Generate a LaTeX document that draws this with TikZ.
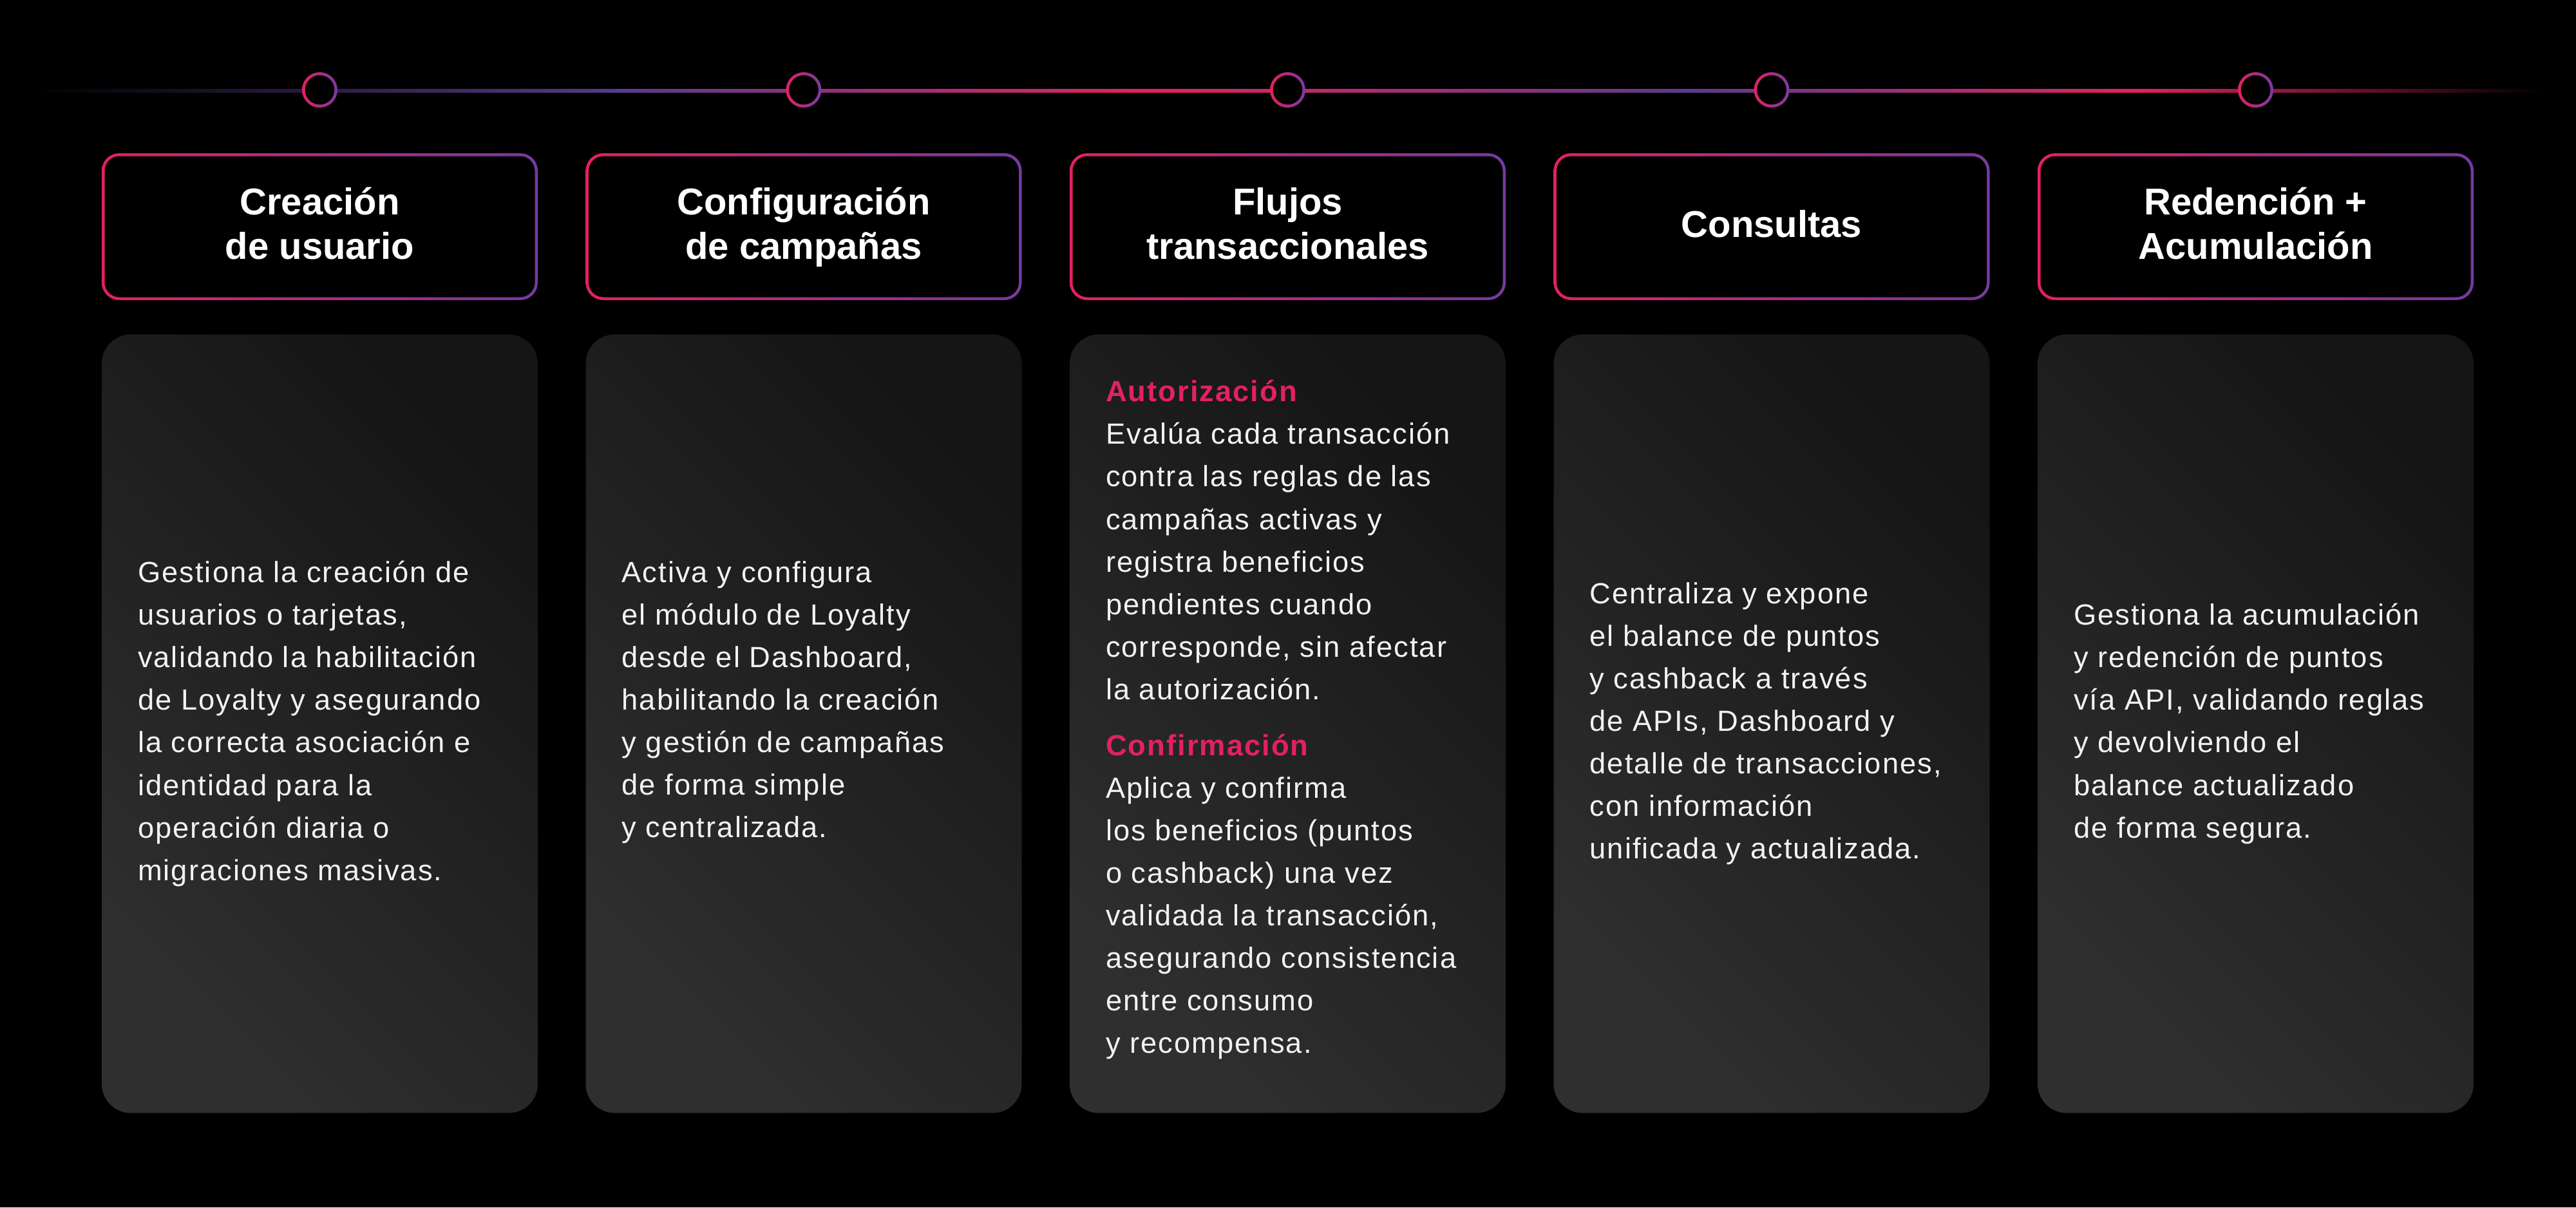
\documentclass[tikz,border=0pt]{standalone}
\usepackage{fontspec}
\setmainfont{Liberation Sans}
\newfontfamily\bodyfont[LetterSpace=4.5]{Liberation Sans}
\usetikzlibrary{positioning}
\definecolor{LoyaltyPink}{RGB}{226,34,96}
\definecolor{LoyaltyPurple}{RGB}{118,58,160}
\definecolor{LinePurple}{RGB}{92,58,140}
\definecolor{CardDark}{RGB}{21,21,21}
\definecolor{CardLight}{RGB}{47,47,47}
\definecolor{SoftWhite}{RGB}{242,242,242}
\pgfdeclarehorizontalshading{timeline}{100bp}{color(0bp)=(black); color(25bp)=(black);
  color(36.8bp)=(LinePurple); color(47.3bp)=(LoyaltyPink); color(58bp)=(LinePurple);
  color(66.9bp)=(LoyaltyPink); color(75bp)=(black); color(100bp)=(black)}

\begin{document}
\begin{tikzpicture}[
    headbox/.style={rectangle, rounded corners=0.27cm, minimum width=6.77cm, minimum height=2.28cm,
        left color=LoyaltyPink, right color=LoyaltyPurple,
        path picture={\fill[black, rounded corners=0.23cm]
            ([shift={(0.045,0.045)}]path picture bounding box.south west) rectangle
            ([shift={(-0.045,-0.045)}]path picture bounding box.north east);}},
    headtitle/.style={text=white, align=center, text depth=0pt,
        font=\fontsize{16.5pt}{19.6pt}\selectfont\bfseries},
    stepdot/.style={circle, minimum size=0.55cm, inner sep=0pt,
        left color=LoyaltyPink, right color=LoyaltyPurple,
        path picture={\fill[black] (path picture bounding box.center) circle (0.228cm);}},
    cardbox/.style={rectangle, rounded corners=0.45cm, minimum width=6.77cm, minimum height=12.09cm,
        top color=CardDark, bottom color=CardLight, shading angle=-45},
    cardtext/.style={anchor=west, align=left, inner sep=0pt, text=SoftWhite,
        font=\bodyfont\fontsize{12.9pt}{18.8pt}\selectfont}]
\path[use as bounding box, fill=black] (0,0) rectangle (40,-18.75);

% header boxes
\foreach \i/\lab in {1/{Creación\\de usuario}, 2/{Configuración\\de campañas},
    3/{Flujos\\transaccionales}, 4/{Consultas}, 5/{Redención +\\Acumulación}}{
    \node[headbox] (hd\i) at ({4.965+7.515*(\i-1)},-3.52) {};
    \node[headtitle] (title\i) at ([yshift=0.05cm]hd\i.center) {\lab};
}

% timeline
\coordinate (tl-start) at (0.5,-1.41);
\coordinate (tl-end) at (39.5,-1.41);
\shade[shading=timeline] ([yshift=0.025cm]tl-start) rectangle ([yshift=-0.025cm]tl-end);
\foreach \i in {1,...,5}
    \node[stepdot, above=0.695cm of hd\i] (dot\i) {};

% cards
\foreach \i in {1,...,5}
    \node[cardbox, below=0.52cm of hd\i] (card\i) {};

\node[cardtext] (txt1) at ([xshift=0.56cm]card1.west)
    {Gestiona la creación de\\usuarios o tarjetas,\\validando la habilitación\\de Loyalty y asegurando\\la correcta asociación e\\identidad para la\\operación diaria o\\migraciones masivas.};
\node[cardtext] (txt2) at ([xshift=0.56cm, yshift=0.33cm]card2.west)
    {Activa y configura\\el módulo de Loyalty\\desde el Dashboard,\\habilitando la creación\\y gestión de campañas\\de forma simple\\y centralizada.};
\node[cardtext] (txt3) at ([xshift=0.56cm, yshift=0.06cm]card3.west)
    {\textcolor{LoyaltyPink}{\bfseries Autorización}\\Evalúa cada transacción\\contra las reglas de las\\campañas activas y\\registra beneficios\\pendientes cuando\\corresponde, sin afectar\\la autorización.\\[0.21cm]
     \textcolor{LoyaltyPink}{\bfseries Confirmación}\\Aplica y confirma\\los beneficios (puntos\\o cashback) una vez\\validada la transacción,\\asegurando consistencia\\entre consumo\\y recompensa.};
\node[cardtext] (txt4) at ([xshift=0.56cm]card4.west)
    {Centraliza y expone\\el balance de puntos\\y cashback a través\\de APIs, Dashboard y\\detalle de transacciones,\\con información\\unificada y actualizada.};
\node[cardtext] (txt5) at ([xshift=0.56cm]card5.west)
    {Gestiona la acumulación\\y redención de puntos\\vía API, validando reglas\\y devolviendo el\\balance actualizado\\de forma segura.};
\end{tikzpicture}
\end{document}
